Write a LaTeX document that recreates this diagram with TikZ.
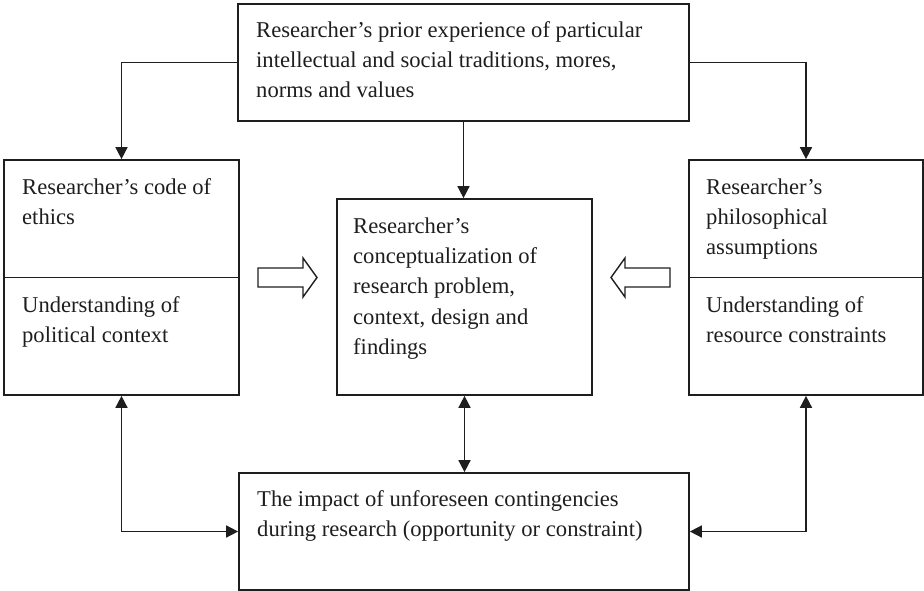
\documentclass[tikz,border=0pt]{standalone}
\usepackage{fontspec}
\setmainfont{Liberation Serif}
\usetikzlibrary{arrows.meta}
\definecolor{ink}{HTML}{1E1E1E}
\begin{document}
\begin{tikzpicture}[x=1pt,y=-1pt,
  box/.style={draw=ink, line width=1.7pt, line join=miter, inner sep=0pt},
  label/.style={anchor=north west, inner sep=0pt, align=left, text=ink,
    font=\fontsize{22.6}{30.3}\selectfont},
  link/.style={draw=ink, line width=1.6pt, -{Triangle[length=12pt,width=12pt]}},
  biway/.style={draw=ink, line width=1.6pt, {Triangle[length=12pt,width=12pt]}-{Triangle[length=12pt,width=12pt]}},
  hollow/.style={draw=ink, line width=1.4pt, line join=miter}
]
\useasboundingbox (0,0) rectangle (924,591);

% boxes
\node[box, minimum width=451pt, minimum height=117pt] (top) at (463.5,62.5) {};
\node[box, minimum width=235pt, minimum height=235pt] (left) at (121.5,277.5) {};
\node[box, minimum width=234pt, minimum height=235pt] (right) at (806,277.5) {};
\node[box, minimum width=255pt, minimum height=196pt] (mid) at (464.5,297) {};
\node[box, minimum width=450pt, minimum height=117pt] (bottom) at (464,531.5) {};

% dividers in the side boxes
\draw[draw=ink, line width=1.7pt] (left.west) -- (left.east);
\draw[draw=ink, line width=1.7pt] (right.west) -- (right.east);

% texts (first baseline 33-34 below each box top)
\node[label] (tTop) at (256,15.8) {\strut Researcher’s prior experience of particular\\intellectual and social traditions, mores,\\norms and values};
\node[label] (tLeftA) at (22,172.8) {\strut Researcher’s code of\\ethics};
\node[label] (tLeftB) at (22,290.8) {\strut Understanding of\\political context};
\node[label] (tRightA) at (706,172.8) {\strut Researcher’s\\philosophical\\assumptions};
\node[label] (tRightB) at (706,290.8) {\strut Understanding of\\resource constraints};
\node[label] (tMid) at (353,211.8) {\strut Researcher’s\\conceptualization of\\research problem,\\context, design and\\findings};
\node[label] (tBottom) at (257,484.8) {\strut The impact of unforeseen contingencies\\during research (opportunity or constraint)};

% connectors
\draw[link] (top.west) -| (left.north);
\draw[link] (top.east) -| (right.north);
\draw[link] (top.south) -- (top.south |- mid.north);
\draw[biway] (mid.south) -- (mid.south |- bottom.north);
\draw[biway] (left.south) |- (bottom.west);
\draw[biway] (right.south) |- (bottom.east);

% hollow block arrows pointing into the centre box
\draw[hollow] (258,268) -- (303,268) -- (303,258) -- (317,277.5) -- (303,297) -- (303,287) -- (258,287) -- cycle;
\draw[hollow] (670,268) -- (625,268) -- (625,258) -- (611,277.5) -- (625,297) -- (625,287) -- (670,287) -- cycle;
\end{tikzpicture}
\end{document}
